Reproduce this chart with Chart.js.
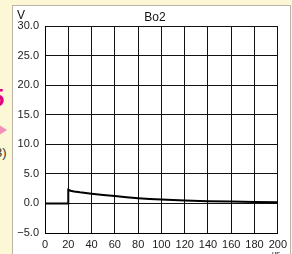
<!DOCTYPE html>
<html>
<head>
<meta charset="utf-8">
<script src="https://cdn.jsdelivr.net/npm/chart.js@4.4.1/dist/chart.umd.min.js"></script>
<style>
  html, body { margin: 0; padding: 0; }
  body { width: 292px; height: 254px; background: #fcf8d6; position: relative; overflow: hidden; font-family: "Liberation Sans", Arial, sans-serif; }
  #panel { position: absolute; left: 12px; top: 5px; width: 277px; height: 260px; background: #fff; border: 1px solid #b8b4a8; }
  #mark5 { position: absolute; left: -9px; top: 84px; color: #e4007f; font-size: 24px; font-weight: bold; }
  #arrow { position: absolute; left: -4px; top: 123px; width: 0; height: 0; border-top: 7px solid transparent; border-bottom: 7px solid transparent; border-left: 11px solid #f28fb8; }
  #note { position: absolute; left: -5px; top: 145px; color: #333; font-size: 13px; }
  canvas { position: absolute; left: 0; top: 0; }
</style>
</head>
<body>
<span id="mark5">5</span>
<div id="arrow"></div>
<span id="note">3)</span>
<div id="panel"></div>
<canvas id="chart" width="292" height="254"></canvas>
<script>
document.addEventListener('DOMContentLoaded', function () {

    // waveform Bo2 (time in us, voltage in V)
    const timeUs = [0, 20, 20, 22, 25, 30, 40, 50, 60, 70, 80, 90, 100, 120, 140, 160, 180, 200];
    const voltage = [0, 0, 2.3, 2.15, 2.02, 1.88, 1.65, 1.44, 1.24, 1.05, 0.89, 0.76, 0.65, 0.49, 0.38, 0.31, 0.25, 0.21];

    const xTickLabels = ['0', '20', '40', '60', '80', '100', '120', '140', '160', '180', '200'];
    const yTickLabels = ['\u22125.0', '0.0', '5.0', '10.0', '15.0', '20.0', '25.0', '30.0'];

    const points = timeUs.map((t, i) => ({ x: t, y: voltage[i] }));

    const fontSpec = { family: '"Liberation Sans", Arial, sans-serif', size: 11 };

    // extra labels: title, unit V, unit us
    const labelsPlugin = {
        id: 'labels',
        afterDraw(c) {
            const ctx = c.ctx;
            const a = c.chartArea;
            ctx.save();
            ctx.fillStyle = '#111';
            ctx.textBaseline = 'alphabetic';
            ctx.font = '12px "Liberation Sans", Arial, sans-serif';
            ctx.textAlign = 'center';
            ctx.fillText('Bo2', 155, 21);
            ctx.textAlign = 'left';
            ctx.fillText('V', 17, 19);
            ctx.font = 'italic 8px "Liberation Sans", Arial, sans-serif';
            ctx.textAlign = 'center';
            ctx.fillText('\u03bcs', a.right - 2, 256);
            ctx.restore();
        }
    };

    const config = {
        type: 'line',
        data: {
            datasets: [{
                label: 'Bo2',
                data: points,
                borderColor: '#000',
                borderWidth: 2,
                pointRadius: 0,
                fill: false,
                tension: 0
            }]
        },
        options: {
            responsive: false,
            animation: false,
            layout: { padding: { left: 0, right: 12, top: 26, bottom: 0 } },
            scales: {
                x: {
                    type: 'linear',
                    min: 0,
                    max: 200,
                    afterFit: function (scale) { scale.height = 21; },
                    ticks: {
                        stepSize: 20,
                        color: '#222',
                        font: fontSpec,
                        padding: 5,
                        maxRotation: 0,
                        autoSkip: false,
                        callback: (v, i) => xTickLabels[i]
                    },
                    grid: { color: '#111', lineWidth: 1, drawTicks: false },
                    border: { color: '#000', width: 1 }
                },
                y: {
                    min: -5,
                    max: 30,
                    afterFit: function (scale) { scale.width = 45; },
                    ticks: {
                        stepSize: 5,
                        color: '#222',
                        font: fontSpec,
                        padding: 6,
                        callback: (v, i) => yTickLabels[i]
                    },
                    grid: { color: '#111', lineWidth: 1, drawTicks: false },
                    border: { color: '#000', width: 1 }
                }
            },
            plugins: {
                legend: { display: false },
                tooltip: { enabled: false }
            }
        },
        plugins: [labelsPlugin]
    };

    new Chart(document.getElementById('chart'), config);
});
</script>
</body>
</html>
